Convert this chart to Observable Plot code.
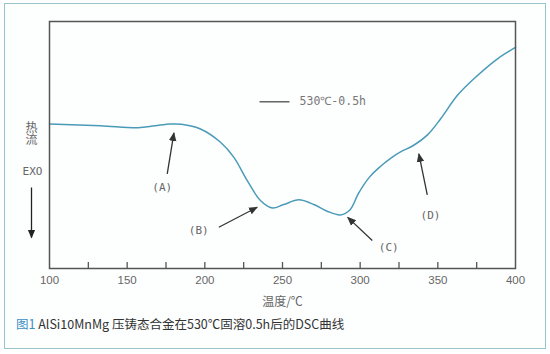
<!DOCTYPE html>
<html>
<head>
<meta charset="utf-8">
<script src="https://cdn.jsdelivr.net/npm/d3@7"></script>
<script src="https://cdn.jsdelivr.net/npm/@observablehq/plot@0.6"></script>
<style>
  html, body { margin: 0; padding: 0; background: #ffffff; }
  #frame {
    position: absolute; left: 4px; top: 3px; width: 540px; height: 344px;
    border: 1.5px solid #96c6cb; background: #fdfefe;
  }
  #chart { position: absolute; left: 0; top: 0; }
  #caption {
    position: absolute; left: 16px; top: 314px;
    font-family: "Noto Sans CJK SC", "Noto Sans", sans-serif; font-size: 12.5px; color: #333;
    white-space: nowrap;
  }
  #caption .fig { color: #3b8fc4; }
</style>
</head>
<body>
<div id="frame"></div>
<div id="chart"></div>
<div id="caption"><span class="fig">图1</span> AlSi10MnMg 压铸态合金在530℃固溶0.5h后的DSC曲线</div>
<script>
// DSC curve (temperature in °C, heat flow in arbitrary units)
const temps    = [100, 132.8, 157, 168, 178, 185, 197.2, 210.1, 218.7, 227.3, 235.8, 243.4, 250.8, 260.5, 270.2, 278.8, 287.3, 293.5, 299, 306, 313, 320, 326, 334.5, 343.2, 351.7, 362.5, 373.2, 388.2, 400];
const heatFlow = [58.5, 57.8, 57.0, 57.8, 58.5, 58.4, 56.5, 51.1, 45.0, 35.6, 27.5, 24.5, 25.9, 27.8, 25.9, 23.2, 21.7, 23.8, 30.5, 37.0, 41.3, 44.8, 47.2, 49.9, 54.0, 60.5, 70.0, 76.8, 84.8, 89.5];

const xTickLabels = [100, 150, 200, 250, 300, 350, 400];
const xTickMarks  = [125, 150, 175, 200, 225, 250, 275, 300, 325, 350, 375];

const seriesName = "530℃-0.5h";
const xLabel = "温度/℃";
const yLabel = "热流";
const exoLabel = "EXO";

// annotation arrows (peak labels) in data coordinates
const annLabels = ["(A)", "(B)", "(C)", "(D)"];
const annTailT  = [175.8, 209.0, 307.8, 343.2];
const annTailV  = [38.3, 16.7, 11.3, 29.8];
const annHeadT  = [180.1, 233.7, 292.0, 337.8];
const annHeadV  = [54.9, 24.8, 20.7, 46.4];
const annTextT  = [172.6, 196.1, 318.4, 345.3];
const annTextV  = [32.9, 15.4, 8.6, 21.4];

const curve = temps.map((t, i) => ({t, v: heatFlow[i]}));
const anns = annLabels.map((l, i) => ({
  label: l, x1: annTailT[i], y1: annTailV[i], x2: annHeadT[i], y2: annHeadV[i], tx: annTextT[i], ty: annTextV[i]
}));

function filledArrow(size) {
  return (color) => {
    const m = d3.create("svg:marker")
      .attr("viewBox", "-5 -5 10 10")
      .attr("markerUnits", "userSpaceOnUse")
      .attr("markerWidth", size)
      .attr("markerHeight", size)
      .attr("refX", 4)
      .attr("orient", "auto")
      .attr("fill", color)
      .attr("stroke", "none");
    m.append("path").attr("d", "M-5,-4.2L5,0L-5,4.2Z");
    return m.node();
  };
}

const plot = Plot.plot({
  width: 550,
  height: 310,
  marginLeft: 49,
  marginRight: 35,
  marginTop: 21,
  marginBottom: 42,
  style: { fontFamily: "'DejaVu Sans Mono', monospace", fontSize: "11px", background: "transparent", overflow: "visible" },
  x: { domain: [100, 400] },
  y: { domain: [0, 100] },
  marks: [
    Plot.axisX(xTickMarks, { tickSize: -6, tickFormat: () => "", stroke: "#555", strokeWidth: 1.3, label: null }),
    Plot.axisX(xTickLabels, { tickSize: 0, tickPadding: 7, fill: "#666", fontSize: 11.5, fontFamily: "'Liberation Sans', sans-serif", label: null }),
    Plot.axisY({ ticks: [], label: null }),
    Plot.line(curve, { x: "t", y: "v", stroke: "#4a9bb8", strokeWidth: 1.5, curve: "catmull-rom" }),
    Plot.frame({ stroke: "#555", strokeWidth: 1.5 }),
    Plot.text([xLabel], { frameAnchor: "bottom", dy: 37, fill: "#666", fontSize: 12, fontFamily: "'Noto Sans CJK SC', sans-serif" }),
    // legend
    Plot.link([seriesName], { x1: () => 235.2, x2: () => 254.5, y1: () => 67.5, y2: () => 67.5, stroke: "#666", strokeWidth: 1.5 }),
    Plot.text([seriesName], { x: () => 261, y: () => 67.5, textAnchor: "start", fill: "#777", fontSize: 11.5 }),
    // y-side label (vertical title)
    Plot.text([yLabel], { x: () => 100, y: () => 56.2, dx: -18, fill: "#666", fontSize: 12, fontFamily: "'Noto Sans CJK SC', sans-serif" }),
    Plot.text([exoLabel], { x: () => 100, y: () => 39.2, dx: -17, fill: "#666", fontSize: 11, letterSpacing: 1 }),
    Plot.link([exoLabel], { x1: () => 100, x2: () => 100, y1: () => 32.8, y2: () => 12.5, dx: -18, stroke: "#222", strokeWidth: 1.3, markerEnd: filledArrow(9) }),
    // annotations
    Plot.link(anns, { x1: "x1", y1: "y1", x2: "x2", y2: "y2", stroke: "#333", strokeWidth: 1.3, markerEnd: filledArrow(9) }),
    Plot.text(anns, { x: "tx", y: "ty", text: "label", fill: "#666", fontSize: 11, letterSpacing: 3.5 })
  ]
});
// render the y-side title vertically (top-to-bottom), as in the reference
d3.select(plot).selectAll("text").filter(function () { return this.textContent === yLabel; })
  .attr("dy", null)
  .style("writing-mode", "vertical-rl")
  .style("letter-spacing", "0.5px");
document.getElementById("chart").appendChild(plot);
</script>
</body>
</html>
